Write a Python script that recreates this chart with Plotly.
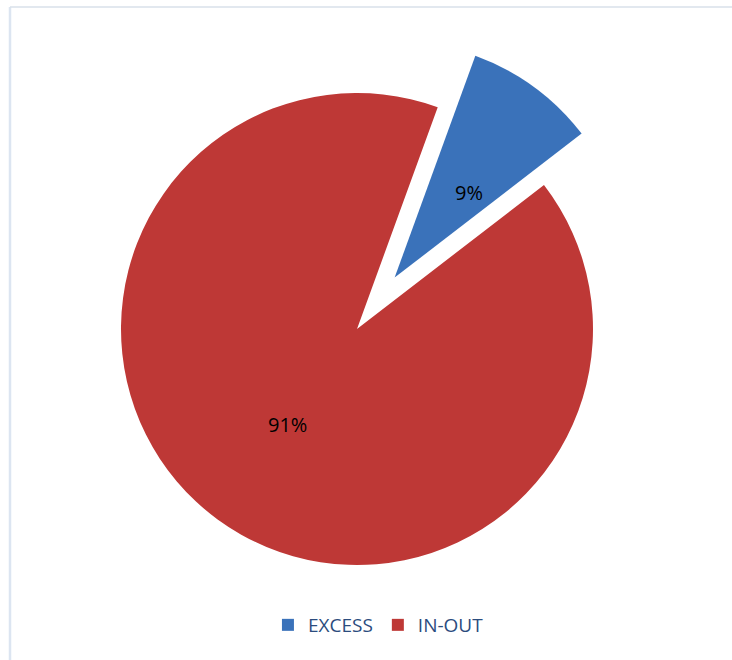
import math
import plotly.graph_objects as go

labels = ["EXCESS", "IN-OUT"]
values = [9, 91]
colors = ["#3A72BA", "#BE3836"]
pulls = [0.27, 0]

W, H = 732, 660
cx, cy, r = 357, 329, 236
rotation = 20
maxpull = max(pulls)
half = r * (1 + maxpull)
FONT = "Open Sans, Liberation Sans, sans-serif"

fig = go.Figure(go.Pie(
    labels=labels, values=values, sort=False, direction="clockwise",
    rotation=rotation, pull=pulls,
    marker=dict(colors=colors, line=dict(width=0)),
    textinfo="none",
    domain=dict(x=[(cx - half) / W, (cx + half) / W],
                y=[(H - cy - half) / H, (H - cy + half) / H]),
    hoverinfo="label+percent",
))

# percentage labels placed at about half radius along each slice's mid-angle
total = sum(values)
start = rotation
annotations = []
for v, p in zip(values, pulls):
    span = 360 * v / total
    mid = math.radians(start + span / 2)
    start += span
    ox = cx + p * r * math.sin(mid)
    oy = cy - p * r * math.cos(mid)
    k = 0.53 if p > 0 else 0.5
    lx = ox + k * r * math.sin(mid)
    ly = oy - k * r * math.cos(mid)
    annotations.append(dict(
        x=lx / W, y=(H - ly) / H, xref="paper", yref="paper",
        text=f"{round(100 * v / total)}%", showarrow=False,
        font=dict(family=FONT, size=20, color="#000000"),
    ))

fig.update_layout(
    width=W, height=H, margin=dict(l=0, r=0, t=0, b=0),
    paper_bgcolor="white", plot_bgcolor="white",
    showlegend=True,
    annotations=annotations,
    legend=dict(orientation="h", x=0.517, xanchor="center", y=(H - 625) / H, yanchor="middle",
                font=dict(family=FONT, size=19, color="#2B4C7E"),
                itemwidth=30, traceorder="normal"),
    shapes=[
        dict(type="line", xref="paper", yref="paper", x0=10 / W, x1=10 / W, y0=-0.05, y1=(H - 7) / H,
             line=dict(color="#DCE5F1", width=2.5)),
        dict(type="line", xref="paper", yref="paper", x0=10 / W, x1=1.05, y0=(H - 7) / H, y1=(H - 7) / H,
             line=dict(color="#D9E1EA", width=1.5)),
    ],
)

fig.write_html("out.html")
